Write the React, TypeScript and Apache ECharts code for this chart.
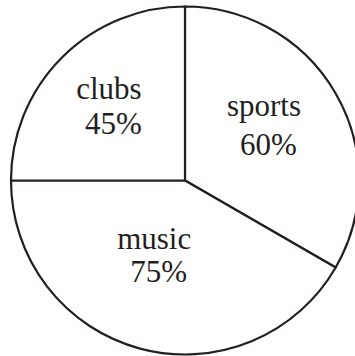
import React, { useEffect, useRef } from "react";
import * as echarts from "echarts";

const categories = ["sports", "music", "clubs"];
const values = [60, 75, 45];

const labelOffsets: [number, number][] = [
  [1, -11],
  [-7.5, -12.5],
  [-12.5, -10.5],
];
const labelLineHeights = [39, 33, 35];

export default function App() {
  const ref = useRef<HTMLDivElement>(null);
  useEffect(() => {
    if (!ref.current) return;
    const chart = echarts.init(ref.current, null, { renderer: "svg" });
    const ink = "#231f20";
    const font = "'Liberation Serif', 'Times New Roman', serif";
    const rich = (lh: number) => ({
      n: { fontFamily: font, fontSize: 31, color: ink, lineHeight: lh, align: "center" },
      p: {
        fontFamily: font,
        fontSize: 31,
        color: ink,
        lineHeight: lh,
        align: "center",
        padding: [0, 0, 0, 9],
      },
    });
    chart.setOption({
      animation: false,
      backgroundColor: "#ffffff",
      series: [
        {
          type: "pie",
          center: [185, 180.5],
          radius: [0, 174],
          startAngle: 90,
          clockwise: true,
          silent: true,
          emphasis: { disabled: true },
          itemStyle: { color: "#ffffff", borderColor: ink, borderWidth: 2.2 },
          label: {
            show: true,
            position: "inside",
            formatter: (p: any) => `{n|${p.name}}\n{p|${p.value}%}`,
            rich: rich(35),
          },
          labelLine: { show: false },
          labelLayout: (params: any) => {
            const o = labelOffsets[params.dataIndex] || [0, 0];
            return { dx: o[0], dy: o[1] };
          },
          data: categories.map((c, i) => ({
            name: c,
            value: values[i],
            label: { rich: rich(labelLineHeights[i]) },
          })),
        },
      ],
    });
    return () => chart.dispose();
  }, []);
  return (
    <div
      ref={ref}
      style={{ position: "fixed", left: 0, top: 0, width: 355, height: 356 }}
    />
  );
}
